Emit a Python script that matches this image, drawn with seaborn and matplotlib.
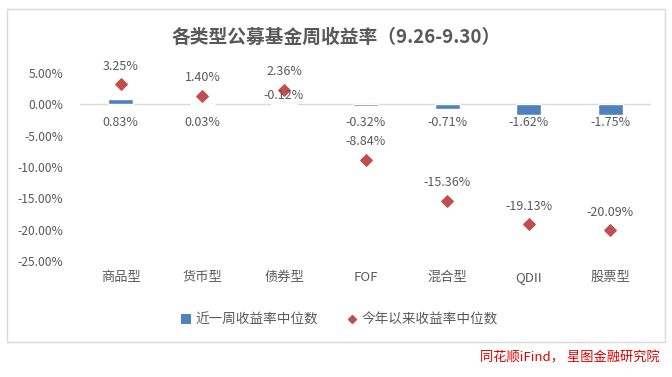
import pandas as pd
import matplotlib
matplotlib.use('Agg')
import matplotlib.pyplot as plt
import seaborn as sns
from matplotlib.patches import Rectangle
from matplotlib.lines import Line2D
from matplotlib.patches import Patch

# data
categories = ['商品型', '货币型', '债券型', 'FOF', '混合型', 'QDII', '股票型']
week_median = [0.83, 0.03, -0.12, -0.32, -0.71, -1.62, -1.75]
ytd_median = [3.25, 1.40, 2.36, -8.84, -15.36, -19.13, -20.09]
y_ticks = [5, 0, -5, -10, -15, -20, -25]

df = pd.DataFrame({'type': categories, 'week': week_median, 'ytd': ytd_median})

sns.set_theme(style='white')
plt.rcParams['font.family'] = ['Noto Sans CJK SC', 'DejaVu Sans']

bar_color = '#4F81BD'
dot_color = '#C0504D'
text_color = '#595959'

fig = plt.figure(figsize=(6.72, 3.77), dpi=100)
ax = fig.add_axes([0.119, 0.308, 0.85, 0.498])

# weekly median as bars
sns.barplot(data=df, x='type', y='week', color=bar_color, width=0.31,
            saturation=1, ax=ax, zorder=3)

# year to date median as diamonds
ax.scatter(range(len(categories)), df['ytd'], marker='D', s=34,
           color=dot_color, zorder=4, clip_on=False)

# zero line
ax.axhline(0, color='#D9D9D9', linewidth=1, zorder=2)

# labels for bars
for i, v in enumerate(week_median):
    y_pos = 1.4 if categories[i] == '债券型' else -2.9
    ax.text(i, y_pos, f'{v:.2f}%', ha='center', va='center',
            fontsize=9, color=text_color, zorder=5)

# labels for diamonds
for i, v in enumerate(ytd_median):
    ax.annotate(f'{v:.2f}%', xy=(i, v), xytext=(0, 13), textcoords='offset points',
                ha='center', va='center', fontsize=9, color=text_color,
                annotation_clip=False, zorder=5)

ax.set_ylim(-25, 5)
ax.set_xlim(-0.5, len(categories) - 0.5)
ax.set_yticks(y_ticks)
ax.set_yticklabels([f'{t:.2f}%' for t in y_ticks])
ax.tick_params(axis='y', length=0, pad=12, labelsize=8.7, labelcolor=text_color)
ax.tick_params(axis='x', length=0, pad=7, labelsize=9.5, labelcolor=text_color)
ax.set_xlabel('')
ax.set_ylabel('')
for s in ax.spines.values():
    s.set_visible(False)
ax.grid(False)

# title
fig.text(0.5, 0.902, '各类型公募基金周收益率（9.26-9.30）', ha='center', va='center',
         fontsize=13.5, fontweight='bold', color=text_color)

# legend
handles = [
    Patch(facecolor=bar_color, edgecolor='none', label='近一周收益率中位数'),
    Line2D([], [], marker='D', linestyle='none', color=dot_color, markersize=4,
           label='今年以来收益率中位数'),
]
fig.legend(handles=handles, loc='center', bbox_to_anchor=(0.505, 0.152), ncol=2,
           frameon=False, fontsize=9.8, labelcolor=text_color, handlelength=0.7,
           handletextpad=0.3, columnspacing=2.2)

# chart border
fig.patches.append(Rectangle((7 / 672, 1 - 342 / 377), 658 / 672, 333 / 377,
                             transform=fig.transFigure, fill=False,
                             edgecolor='#D9D9D9', linewidth=1))

# source note
fig.text(0.982, 0.05, '同花顺iFind， 星图金融研究院', ha='right', va='center',
         fontsize=9.5, style='italic', color='#E00000')

plt.savefig('out.png', dpi=100)
